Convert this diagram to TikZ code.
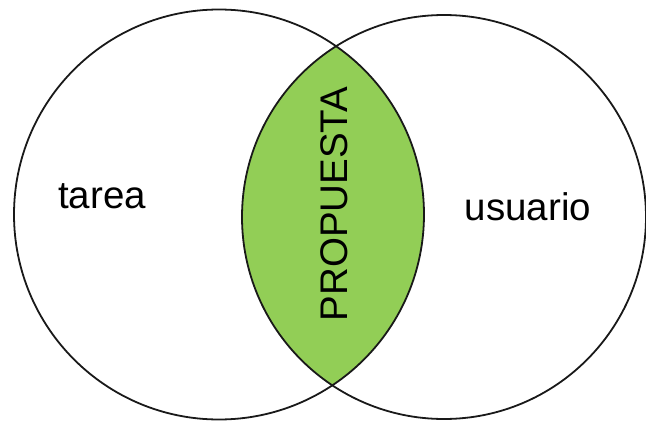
\documentclass[tikz,border=0pt]{standalone}
\usepackage{fontspec}
\setmainfont{Liberation Sans}
\definecolor{lensgreen}{RGB}{146,206,86}
\begin{document}
\begin{tikzpicture}[x=1pt,y=-1pt,
  ring/.style={draw=black!90,line width=1.8pt},
  lbl/.style={font=\fontsize{38.5}{41}\selectfont,inner sep=0pt}]
\useasboundingbox (0,0) rectangle (646,423);
\begin{scope}
  \clip (219,214.5) circle[radius=205];
  \fill[lensgreen] (444,217) circle[radius=202];
\end{scope}
\node[ring,circle,minimum size=410pt,inner sep=0pt] (tarea-c) at (219,214.5) {};
\node[ring,circle,minimum size=404pt,inner sep=0pt] (usuario-c) at (444,217) {};
\node[lbl] (tarea) at (102,196) {tarea};
\node[lbl] (usuario) at (528,207) {usuario};
\node[lbl,rotate=90] (propuesta) at (334,204) {PROPUESTA};
\end{tikzpicture}
\end{document}
